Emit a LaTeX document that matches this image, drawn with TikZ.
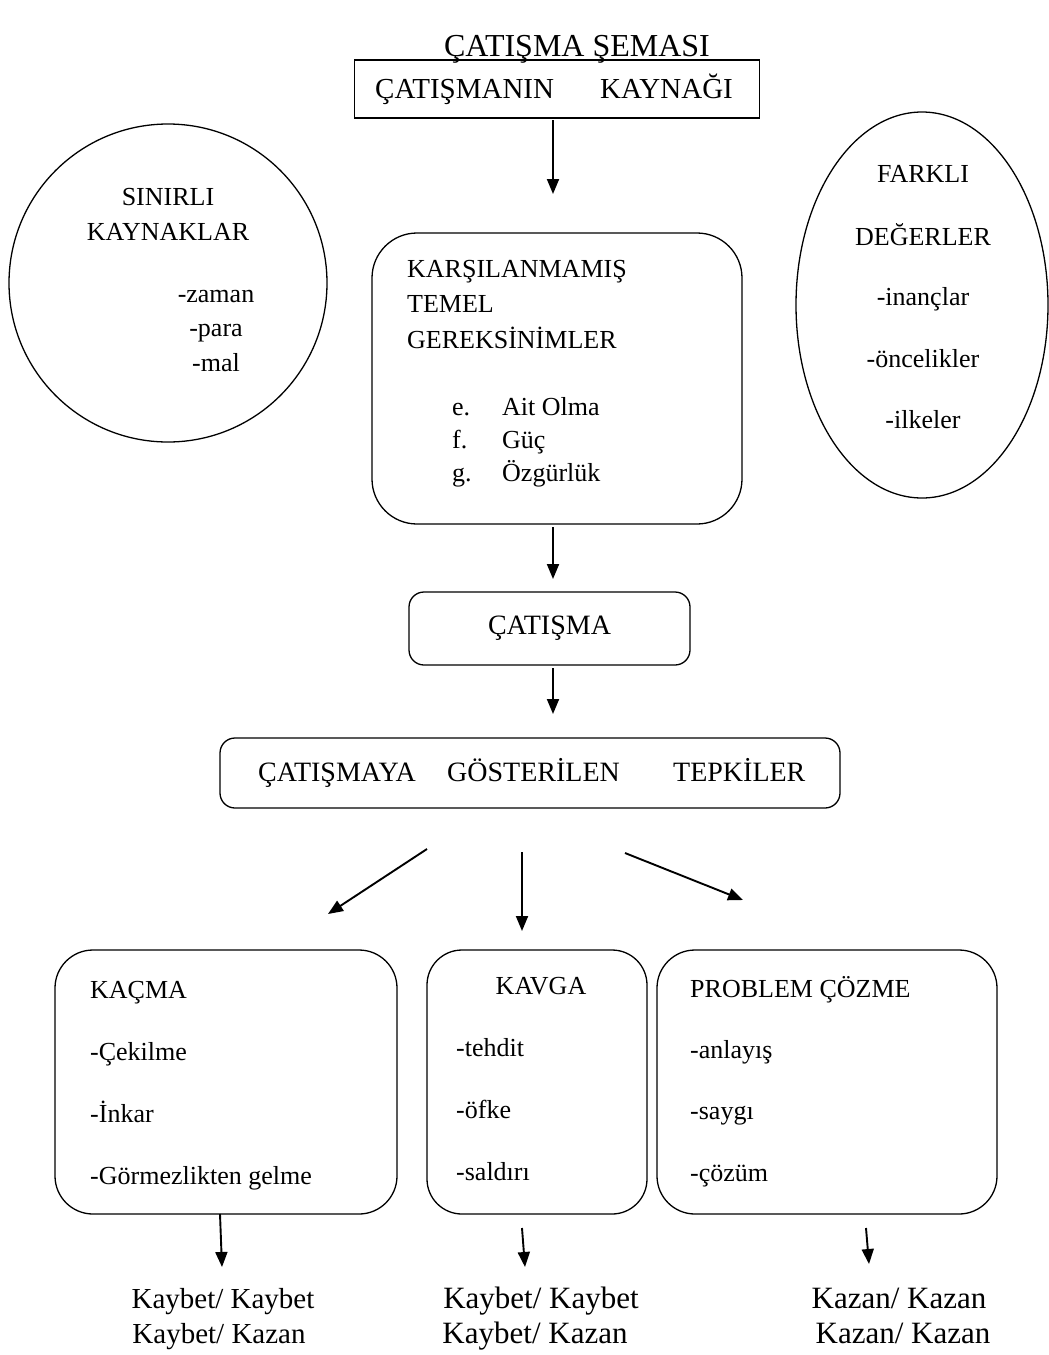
\documentclass[tikz,border=0pt]{standalone}
\usepackage{fontspec}
\setmainfont{Liberation Serif}
\usetikzlibrary{shapes.geometric,arrows.meta}
\newcommand{\fsz}[1]{\fontsize{#1}{#1}\selectfont}
\begin{document}
\begin{tikzpicture}[x=1pt,y=-1pt,
  shapebox/.style={draw, line width=1.3pt, inner sep=0pt},
  lbl/.style={inner sep=0pt, font=\fsz{26}},
  big/.style={inner sep=0pt, font=\fsz{29}},
  bigger/.style={inner sep=0pt, font=\fsz{31}},
  arr/.style={line width=1.9pt, -{Triangle[length=15pt,width=12pt]}},
]
\useasboundingbox[fill=white] (0,0) rectangle (1049,1355);

% title
\node[inner sep=0pt, font=\fsz{32}, anchor=base] (title) at (577,56) {ÇATIŞMA ŞEMASI};

% source box
\node[shapebox, minimum width=405pt, minimum height=58pt] (src) at (557,89) {};
\node[inner sep=0pt, font=\fsz{29}, anchor=base west] (s1) at (375,98) {ÇATIŞMANIN};
\node[inner sep=0pt, font=\fsz{29}, anchor=base west] (s2) at (600,98) {KAYNAĞI};
\coordinate (a1s) at (553,120);
\coordinate (a1e) at (553,194);
\draw[arr] (a1s) -- (a1e);

% circle
\node[shapebox, circle, minimum size=318pt] (circ) at (168,283) {};
\node[lbl, anchor=base] (c1) at (168,205) {SINIRLI};
\node[lbl, anchor=base] (c2) at (168,240) {KAYNAKLAR};
\node[lbl, anchor=base] (c3) at (216,302) {-zaman};
\node[lbl, anchor=base] (c4) at (216,336) {-para};
\node[lbl, anchor=base] (c5) at (216,371) {-mal};

% ellipse
\node[shapebox, ellipse, minimum width=252pt, minimum height=386pt] (ell) at (922,305) {};
\node[lbl, anchor=base] (e1) at (923,182) {FARKLI};
\node[lbl, anchor=base] (e2) at (923,245) {DEĞERLER};
\node[lbl, anchor=base] (e3) at (923,305) {-inançlar};
\node[lbl, anchor=base] (e4) at (923,367) {-öncelikler};
\node[lbl, anchor=base] (e5) at (923,428) {-ilkeler};

% needs box
\node[shapebox, rounded corners=45pt, minimum width=370pt, minimum height=291pt] (needs) at (557,378.5) {};
\node[lbl, anchor=base west] (n1) at (407,277) {KARŞILANMAMIŞ};
\node[lbl, anchor=base west] (n2) at (407,312) {TEMEL};
\node[lbl, anchor=base west] (n3) at (407,348) {GEREKSİNİMLER};
\node[lbl, anchor=base west] (l1) at (452,415) {e.};
\node[lbl, anchor=base west] (l2) at (452,448) {f.};
\node[lbl, anchor=base west] (l3) at (452,481) {g.};
\node[lbl, anchor=base west] (i1) at (502,415) {Ait Olma};
\node[lbl, anchor=base west] (i2) at (502,448) {Güç};
\node[lbl, anchor=base west] (i3) at (502,481) {Özgürlük};

\coordinate (a2s) at (553,527);
\coordinate (a2e) at (553,579);
\draw[arr] (a2s) -- (a2e);

% conflict box
\node[shapebox, rounded corners=15pt, minimum width=281pt, minimum height=73pt, font=\fsz{28}] (conf) at (549.5,628.5) {ÇATIŞMA};
\coordinate (a3s) at (553,668);
\coordinate (a3e) at (553,714);
\draw[arr] (a3s) -- (a3e);

% reactions box
\node[shapebox, rounded corners=15pt, minimum width=620pt, minimum height=70pt] (tep) at (530,773) {};
\node[lbl, font=\fsz{28}, anchor=base west] (t1) at (258,781) {ÇATIŞMAYA};
\node[lbl, font=\fsz{28}, anchor=base west] (t2) at (447,781) {GÖSTERİLEN};
\node[lbl, font=\fsz{28}, anchor=base west] (t3) at (673,781) {TEPKİLER};

\coordinate (b1s) at (427,849);
\coordinate (b1e) at (328,914);
\coordinate (b2s) at (522,852);
\coordinate (b2e) at (522,931);
\coordinate (b3s) at (625,853);
\coordinate (b3e) at (743,900);
\draw[arr] (b1s) -- (b1e);
\draw[arr] (b2s) -- (b2e);
\draw[arr] (b3s) -- (b3e);

% bottom boxes
\node[shapebox, rounded corners=38pt, minimum width=342pt, minimum height=264pt] (kac) at (226,1082) {};
\node[lbl, anchor=base west] (k1) at (90,998) {KAÇMA};
\node[lbl, anchor=base west] (k2) at (90,1060) {-Çekilme};
\node[lbl, anchor=base west] (k3) at (90,1122) {-İnkar};
\node[lbl, anchor=base west] (k4) at (90,1184) {-Görmezlikten gelme};

\node[shapebox, rounded corners=35pt, minimum width=220pt, minimum height=264pt] (kav) at (537,1082) {};
\node[lbl, anchor=base] (v1) at (541,994) {KAVGA};
\node[lbl, anchor=base west] (v2) at (456,1056) {-tehdit};
\node[lbl, anchor=base west] (v3) at (456,1118) {-öfke};
\node[lbl, anchor=base west] (v4) at (456,1180) {-saldırı};

\node[shapebox, rounded corners=38pt, minimum width=340pt, minimum height=264pt] (prb) at (827,1082) {};
\node[lbl, anchor=base west] (p1) at (690,997) {PROBLEM ÇÖZME};
\node[lbl, anchor=base west] (p2) at (690,1058) {-anlayış};
\node[lbl, anchor=base west] (p3) at (690,1119) {-saygı};
\node[lbl, anchor=base west] (p4) at (690,1181) {-çözüm};

% bottom arrows
\coordinate (d1s) at (220,1214);
\coordinate (d1e) at (222,1267);
\coordinate (d2s) at (522,1228);
\coordinate (d2e) at (525,1267);
\coordinate (d3s) at (866,1228);
\coordinate (d3e) at (869,1264);
\draw[arr] (d1s) -- (d1e);
\draw[arr] (d2s) -- (d2e);
\draw[arr] (d3s) -- (d3e);

% outcomes
\node[big, anchor=base] (o1) at (223,1308) {Kaybet/ Kaybet};
\node[big, anchor=base] (o2) at (219,1343) {Kaybet/ Kazan};
\node[bigger, anchor=base] (o3) at (541,1308) {Kaybet/ Kaybet};
\node[bigger, anchor=base] (o4) at (535,1343) {Kaybet/ Kazan};
\node[bigger, anchor=base] (o5) at (899,1308) {Kazan/ Kazan};
\node[bigger, anchor=base] (o6) at (903,1343) {Kazan/ Kazan};
\end{tikzpicture}
\end{document}
